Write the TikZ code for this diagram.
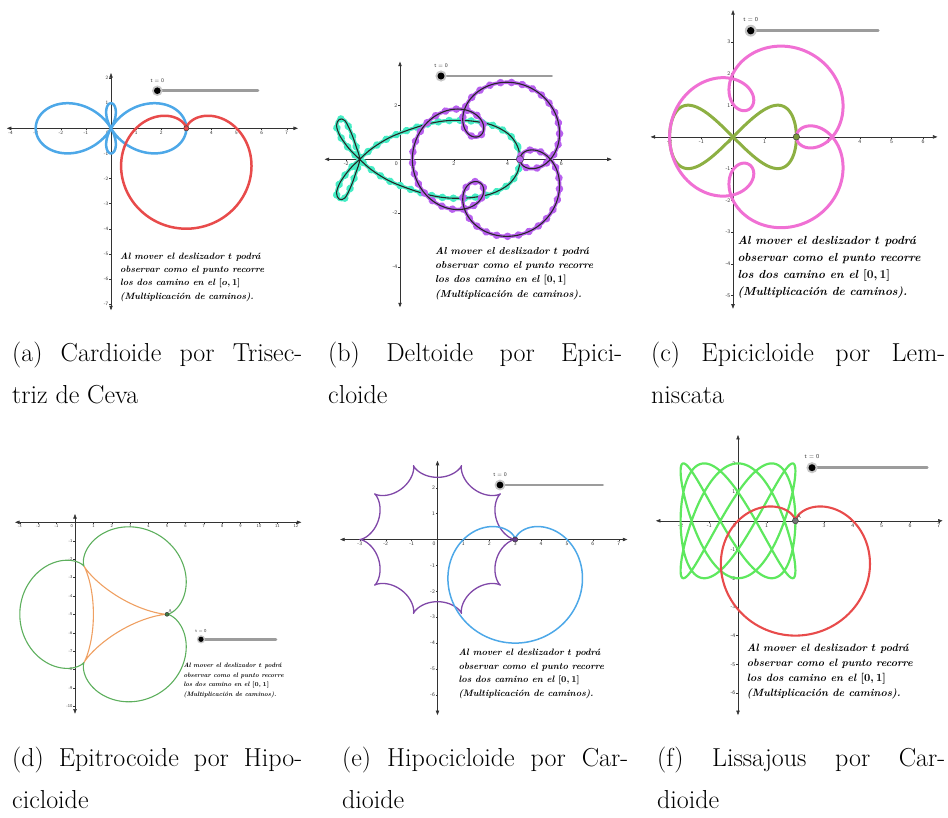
\documentclass[tikz,border=0pt]{standalone}
\usepackage{tikz}
\usetikzlibrary{arrows.meta,decorations.markings}
\definecolor{ink}{HTML}{333333}
\definecolor{riel}{HTML}{9C9C9C}
\definecolor{celeste}{HTML}{4DA8E8}
\definecolor{rojo}{HTML}{E84B4B}
\definecolor{turquesa}{HTML}{45EDC5}
\definecolor{lila}{HTML}{B860EE}
\definecolor{rosa}{HTML}{F070D4}
\definecolor{oliva}{HTML}{8DB043}
\definecolor{verde}{HTML}{5DAF5D}
\definecolor{naranja}{HTML}{EFA062}
\definecolor{morado}{HTML}{8048A8}
\definecolor{lima}{HTML}{5EE85E}

\begin{document}
\begin{tikzpicture}[x=1pt,y=-1pt,
  eje/.style={ink,line width=0.55pt,{Triangle[length=4.5pt,width=3.4pt]}-{Triangle[length=4.5pt,width=3.4pt]}},
  marca/.style={ink,line width=0.4pt},
  rotulo/.style={text=ink,inner sep=0.4pt},
  curva/.style={line width=#1,line join=round},
  bandaturq/.style={turquesa,line width=3.6pt,line join=round,postaction={decorate},
    decoration={markings,mark=between positions 0 and 1 step 11pt with {\fill[turquesa] (0,0) circle (3.8pt);}}},
  bandalila/.style={lila,line width=3.6pt,line join=round,postaction={decorate},
    decoration={markings,mark=between positions 0 and 1 step 11pt with {\fill[lila] (0,0) circle (3.8pt);}}},
  trazo/.style={black!85,line width=1.1pt,line join=round},
  riel/.style={draw=riel,line width=2.6pt,line cap=round},
  punto/.style={fill=#1,draw=black!75,line width=0.5pt},
  nota/.style={anchor=north west,align=left,inner sep=0pt},
  leyenda/.style={anchor=base west,inner sep=0pt,font=\fontsize{26}{30}\selectfont}]
  \useasboundingbox (0,0) rectangle (948,817);

  % ejes de las seis vistas: origen (px), unidad, extremos, marcas
  \foreach \p/\ox/\oy/\u/\xa/\xb/\ya/\yb/\xl/\yl/\fs in {
    a/111/128.3/25.1/-4.15/7.45/-7.25/2.2/{-4,-3,-2,-1,1,2,3,4,5,6,7}/{-7,-6,-5,-4,-3,-2,-1,1,2}/5,
    b/400/159.3/26.9/-2.8/7.87/-5.5/3.63/{-2,2,4,6}/{-4,-2,2}/5.5,
    c/733/136.9/31.7/-2.6/6.45/-5.42/4.0/{-2,-1,1,2,3,4,5,6}/{-5,-4,-3,-2,-1,1,2,3}/5.5,
    d/75/522.3/18.4/-3.26/12.3/-10.4/0.45/{-3,-2,-1,1,2,3,4,5,6,7,8,9,10,11,12}/{-10,-9,-8,-7,-6,-5,-4,-3,-2,-1}/4.3,
    e/437.5/539.5/25.9/-3.76/7.33/-6.78/3.04/{-3,-2,-1,1,2,3,4,5,6,7}/{-6,-5,-4,-3,-2,-1,1,2}/5.3,
    f/738/520.8/28.7/-2.86/7.13/-6.77/2.99/{-2,-1,1,2,3,4,5,6,7}/{-6,-5,-4,-3,-2,-1,1,2}/5.5}
  {
    \begin{scope}[xshift=\ox pt,yshift=-\oy pt,x=\u pt,y=\u pt,
        rotulo/.append style={font=\fontsize{\fs}{\fs}\sffamily}]
      \draw[eje] (\xa,0) -- (\xb,0);
      \draw[eje] (0,\ya) -- (0,\yb);
      \foreach \k in \xl {
        \draw[marca] (\k,0) -- ++(0,-1.8pt);
        \node[rotulo,anchor=north,yshift=-2pt] (\p-x\k) at (\k,0) {\k};
      }
      \foreach \k in \yl {
        \draw[marca] (0,\k) -- ++(-1.8pt,0);
        \node[rotulo,anchor=east,xshift=-2pt] (\p-y\k) at (0,\k) {\k};
      }
      \node[rotulo,anchor=north east,xshift=-1.5pt,yshift=-2pt] (\p-cero) at (0,0) {0};
    \end{scope}
  }

  % (a) trisectriz de Ceva y cardioide
  \begin{scope}[xshift=111pt,yshift=-128.3pt,x=25.1pt,y=25.1pt]
    \draw[curva=2.5pt,celeste] plot[domain=0:360,samples=241,variable=\t]
      ({(1+2*cos(2*\t))*cos(\t)},{(1+2*cos(2*\t))*sin(\t)});
    \draw[curva=2.5pt,rojo] plot[domain=0:360,samples=241,variable=\t]
      ({3+2*(1-sin(\t))*cos(\t)},{2*(1-sin(\t))*sin(\t)});
    \filldraw[punto=rojo] (3,0) circle (2.6pt);
  \end{scope}

  % (b) deltoide y epicicloide, con rastro de puntos
  \begin{scope}[xshift=400pt,yshift=-159.3pt,x=26.9pt,y=26.9pt]
    \foreach \capa in {bandaturq,trazo}
      \draw[\capa] plot[smooth cycle,tension=0.55] coordinates {
        (4.46,0) (4.36,0.5) (4.02,0.95) (3.4,1.28) (2.6,1.43) (1.8,1.44) (1.1,1.33)
        (0.4,1.12) (-0.3,0.85) (-0.75,0.6) (-1.15,0.32) (-1.5,0)
        (-1.88,-0.38) (-2.22,-0.85) (-2.36,-1.25) (-2.26,-1.48) (-2.05,-1.44)
        (-1.82,-1.0) (-1.64,-0.5) (-1.5,0)
        (-1.64,0.5) (-1.82,1.0) (-2.05,1.44) (-2.26,1.48) (-2.36,1.25)
        (-2.22,0.85) (-1.88,0.38) (-1.5,0)
        (-1.15,-0.32) (-0.75,-0.6) (-0.3,-0.85) (0.4,-1.12) (1.1,-1.33) (1.8,-1.44)
        (2.6,-1.43) (3.4,-1.28) (4.02,-0.95) (4.36,-0.5)};
    \foreach \capa in {bandalila,trazo}
      \draw[\capa] plot[domain=0:360,samples=361,variable=\t]
        ({3.46+2*cos(\t)-cos(4*\t)},{2*sin(\t)-sin(4*\t)});
    \filldraw[punto=lila] (4.46,0) circle (3.6pt);
  \end{scope}

  % (c) epicicloide y lemniscata
  \begin{scope}[xshift=733pt,yshift=-136.9pt,x=31.7pt,y=31.7pt]
    \draw[curva=3pt,oliva] plot[domain=0:360,samples=241,variable=\t]
      ({2*cos(\t)},{sin(2*\t)});
    \draw[curva=3pt,rosa] plot[domain=0:360,samples=361,variable=\t]
      ({1+2*cos(\t)-cos(4*\t)},{2*sin(\t)-sin(4*\t)});
    \filldraw[punto=oliva!85!black] (2,0) circle (3.2pt);
  \end{scope}

  % (d) epitrocoide e hipocicloide
  \begin{scope}[xshift=75pt,yshift=-522.3pt,x=18.4pt,y=18.4pt]
    \draw[curva=1.1pt,verde] plot[domain=0:360,samples=361,variable=\t]
      ({2+4*cos(\t)-cos(4*\t)},{-5+4*sin(\t)-sin(4*\t)});
    \draw[curva=1.1pt,naranja] plot[domain=0:360,samples=361,variable=\t]
      ({2+2*cos(\t)+cos(2*\t)},{-5+2*sin(\t)-sin(2*\t)});
    \filldraw[punto=verde!70!black] (5,-5) circle (2pt);
    \node[rotulo,font=\fontsize{4.3}{4.3}\sffamily,anchor=south west] (puntoA) at (5.05,-4.95) {A};
  \end{scope}

  % (e) hipocicloide y cardioide
  \begin{scope}[xshift=437.5pt,yshift=-539.5pt,x=25.9pt,y=25.9pt]
    \draw[curva=1.3pt,morado] plot[domain=0:360,samples=361,variable=\t]
      ({2.7*cos(\t)+0.3*cos(9*\t)},{2.7*sin(\t)-0.3*sin(9*\t)});
    \draw[curva=1.5pt,celeste] plot[domain=0:360,samples=241,variable=\t]
      ({3+2*(1-sin(\t))*cos(\t)},{2*(1-sin(\t))*sin(\t)});
    \filldraw[punto=morado!80!black] (3,0) circle (2.6pt);
  \end{scope}

  % (f) Lissajous y cardioide
  \begin{scope}[xshift=738pt,yshift=-520.8pt,x=28.7pt,y=28.7pt]
    \draw[curva=2.2pt,lima] plot[domain=0:360,samples=721,variable=\t]
      ({2*cos(3*\t)},{2*sin(5*\t)});
    \draw[curva=2.1pt,rojo] plot[domain=0:360,samples=241,variable=\t]
      ({2+2*(1-sin(\t))*cos(\t)},{2*(1-sin(\t))*sin(\t)});
    \filldraw[punto=black!55] (2,0) circle (3pt);
    \node[rotulo,font=\fontsize{5}{5}\sffamily,anchor=south west] (puntoB) at (2.05,0.05) {A};
  \end{scope}

  % deslizadores t
  \foreach \p/\sx/\sy/\se/\r/\fs in {a/157.3/90.7/258/3.3/5.5, b/441/76/551.7/3.5/5.5,
      c/750.7/30.7/878.3/3.7/6, d/201/639.3/276/2.6/4.5, e/500/485/602.7/3.4/5.5,
      f/812/467.7/927.3/3.5/6}
  {
    \pgfmathsetmacro{\rh}{1.6*\r}
    \draw[riel] (\sx,\sy) -- (\se,\sy);
    \fill[black!22] (\sx,\sy) circle (\rh pt);
    \fill[black] (\sx,\sy) circle (\r pt);
    \node[rotulo,font=\fontsize{\fs}{\fs}\sffamily,anchor=south] (t\p) at (\sx,\sy-2.3*\r) {t = 0};
  }

  % notas de GeoGebra
  \foreach \p/\nx/\ny/\ns/\nb/\cero in {a/120/252.6/9.2/13.3/o, b/435/247.2/10.1/14.2/0,
      c/737.3/236.4/11.7/16.7/0, d/183.3/663.1/6.4/9.4/0, e/458.3/649.1/9.3/13.5/0,
      f/746.7/644.2/10.6/14.8/0}
    \node[nota,font=\fontsize{\ns}{\nb}\selectfont\bfseries\itshape\boldmath] (nota\p) at (\nx,\ny)
      {Al mover el deslizador $t$ podrá\\ observar como el punto recorre\\
       los dos camino en el $[\cero,1]$\\ (Multiplicación de caminos).};

  % subtítulos
  \foreach \p/\cx/\cy/\cw/\uno/\dos in {
      a/12/361.7/290/{(a) Cardioide por Trisec-}/{triz de Ceva},
      b/328/361.7/294/{(b) Deltoide por Epici-}/{cloide},
      c/651/361.7/294/{(c) Epicicloide por Lem-}/{niscata},
      d/12/766.7/290/{(d) Epitrocoide por Hipo-}/{cicloide},
      e/342/766.7/286/{(e) Hipocicloide por Car-}/{dioide},
      f/657/766.7/288/{(f) Lissajous por Car-}/{dioide}}
  {
    \node[leyenda] (cap\p) at (\cx,\cy) {\makebox[\cw pt][s]{\uno}};
    \node[leyenda] (cap\p2) at (\cx,\cy+41.6) {\dos};
  }
\end{tikzpicture}
\end{document}
